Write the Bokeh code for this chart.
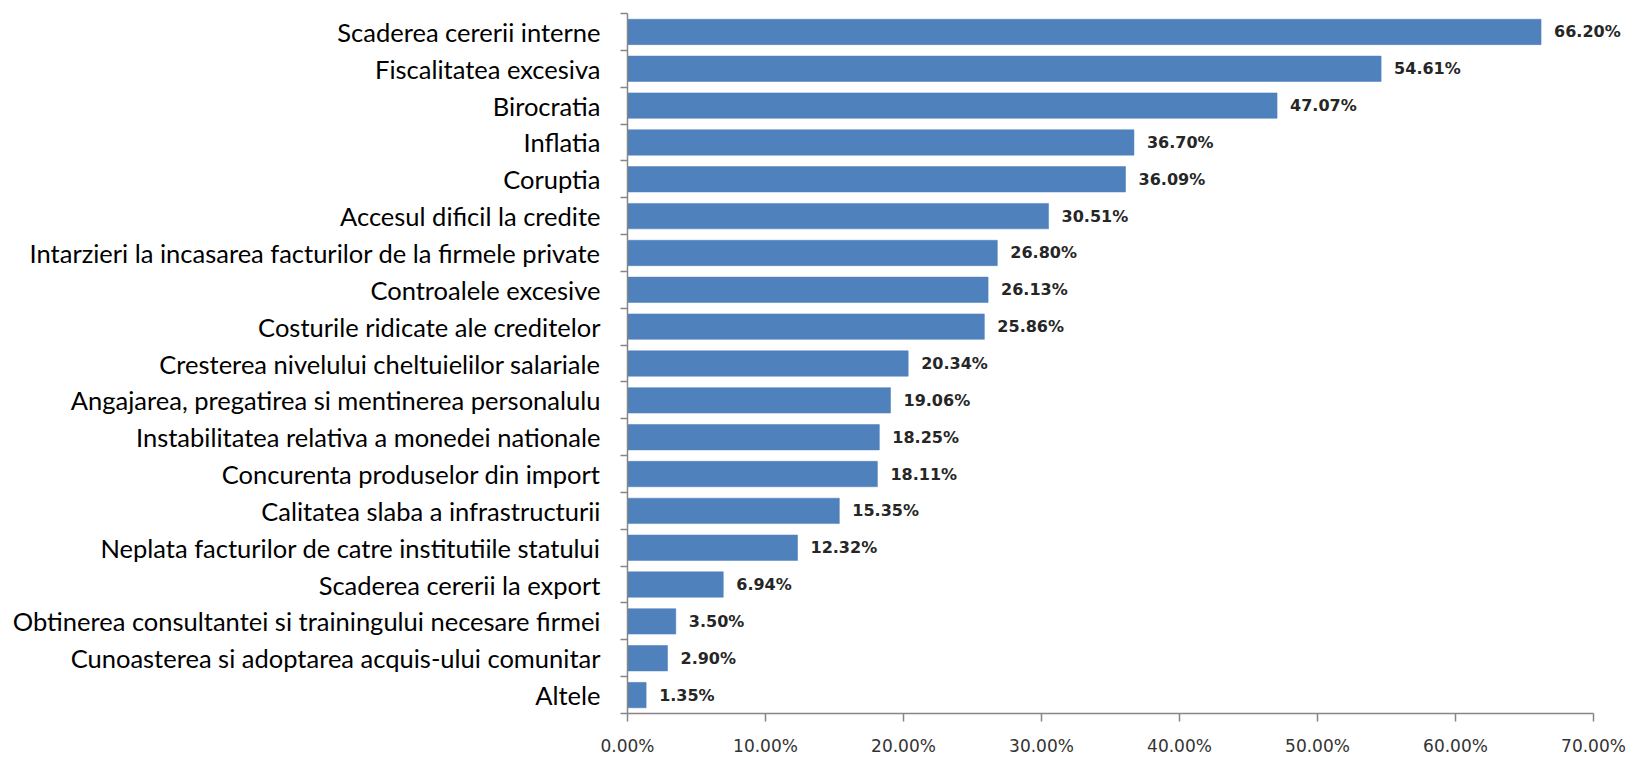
from bokeh.plotting import figure
from bokeh.models import ColumnDataSource, Range1d, FixedTicker, LabelSet, NumeralTickFormatter
from bokeh.core.properties import value
from bokeh.embed import file_html
from bokeh.resources import INLINE

categories = [
    "Scaderea cererii interne",
    "Fiscalitatea excesiva",
    "Birocratia",
    "Inflatia",
    "Coruptia",
    "Accesul dificil la credite",
    "Intarzieri la incasarea facturilor de la firmele private",
    "Controalele excesive",
    "Costurile ridicate ale creditelor",
    "Cresterea nivelului cheltuielilor salariale",
    "Angajarea, pregatirea si mentinerea personalulu",
    "Instabilitatea relativa a monedei nationale",
    "Concurenta produselor din import",
    "Calitatea slaba a infrastructurii",
    "Neplata facturilor de catre institutiile statului",
    "Scaderea cererii la export",
    "Obtinerea consultantei si trainingului necesare firmei",
    "Cunoasterea si adoptarea acquis-ului comunitar",
    "Altele",
]
values = [0.6620, 0.5461, 0.4707, 0.3670, 0.3609, 0.3051, 0.2680, 0.2613, 0.2586,
          0.2034, 0.1906, 0.1825, 0.1811, 0.1535, 0.1232, 0.0694, 0.0350, 0.0290, 0.0135]
x_ticks = [0.0, 0.1, 0.2, 0.3, 0.4, 0.5, 0.6, 0.7]

# layout constants (pixels); the frame covers the whole figure, axes are pinned
W, H = 1630, 759
LEFT, TOP = 627, 13           # where the category axis / first boundary sit
AXIS_Y_PX = 713               # where the value axis sits
AXIS_X_END_PX = 1593          # pixel of the last (70%) tick
n = len(categories)
pitch = (AXIS_Y_PX - TOP) / n
xscale = (AXIS_X_END_PX - LEFT) / x_ticks[-1]
x_start = -LEFT / xscale
x_end = (W - LEFT) / xscale
y_top = -0.5 - TOP / pitch
y_bottom = -0.5 + (H - TOP) / pitch

pos = list(range(n))
source = ColumnDataSource(dict(
    y=pos,
    v=values,
    lab=[f"{v*100:.2f}%" for v in values],
))

p = figure(width=W, height=H, output_backend="svg", toolbar_location=None,
           x_range=Range1d(x_start, x_end), y_range=Range1d(y_bottom, y_top),
           min_border_left=0, min_border_right=0, min_border_top=0, min_border_bottom=0)
p.outline_line_color = None
p.xgrid.visible = False
p.ygrid.visible = False
p.background_fill_color = "white"
p.border_fill_color = "white"

p.hbar(y="y", right="v", left=0, height=0.69, source=source,
       fill_color="#4F81BD", line_color="#4A7EBB", line_width=0.5)

labels = LabelSet(x="v", y="y", text="lab", source=source, x_offset=13,
                  text_baseline="middle", text_align="left",
                  text_font=value("DejaVu Sans"), text_font_size="16px", text_font_style="bold",
                  text_color="#262626")
p.add_layout(labels)

axis_col = "#868686"
# category axis with ticks at the category boundaries, pinned at x = 0
yax = p.yaxis[0]
yax.fixed_location = 0
yax.bounds = (-0.5, n - 0.5)
yax.ticker = FixedTicker(ticks=pos, minor_ticks=[i - 0.5 for i in range(n + 1)])
yax.major_label_overrides = {i: c for i, c in enumerate(categories)}
yax.major_tick_out = 0
yax.major_tick_in = 0
yax.minor_tick_out = 7
yax.minor_tick_in = 0
yax.minor_tick_line_color = axis_col
yax.minor_tick_line_width = 1.5
yax.axis_line_color = axis_col
yax.axis_line_width = 1.5
yax.major_label_standoff = 20
yax.major_label_text_font = "Lato"
yax.major_label_text_font_size = "25.5px"
yax.major_label_text_color = "#000000"

# value axis, pinned at the bottom edge of the last category
xax = p.xaxis[0]
xax.fixed_location = n - 0.5
xax.bounds = (x_ticks[0], x_ticks[-1])
xax.ticker = FixedTicker(ticks=x_ticks)
xax.formatter = NumeralTickFormatter(format="0.00%")
xax.major_tick_out = 8
xax.major_tick_in = 0
xax.minor_tick_out = 0
xax.minor_tick_in = 0
xax.major_tick_line_color = axis_col
xax.major_tick_line_width = 1.5
xax.axis_line_color = axis_col
xax.axis_line_width = 1.5
xax.major_label_standoff = 14
xax.major_label_text_font = "DejaVu Sans"
xax.major_label_text_font_size = "17px"
xax.major_label_text_color = "#333333"

open("out.html", "w").write(file_html(p, INLINE))
